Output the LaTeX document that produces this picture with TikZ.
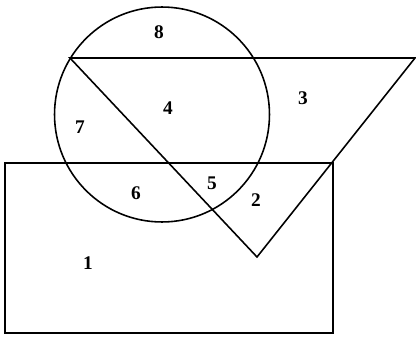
\documentclass[tikz,border=0pt]{standalone}
\usepackage{fontspec}
\setmainfont{Liberation Serif}
\begin{document}
\begin{tikzpicture}[x=0.02cm, y=-0.02cm, line width=0.9pt]
        \tikzstyle{num} = [font=\fontsize{11}{13}\selectfont\bfseries, inner sep=0pt]
        \tikzstyle{ring} = [draw, circle, inner sep=0pt, minimum size=4.3cm]

        \useasboundingbox (0,0) rectangle (416,338);

        \coordinate (tl) at (70,58);
        \coordinate (tr) at (415,58);
        \coordinate (tb) at (257,257);
        \coordinate (rtl) at (5,163);
        \coordinate (rbr) at (333,333);

        \node (circ) [ring] at (162,114.5) {};

        \draw (tl) -- (tr) -- (tb) -- cycle;
        \draw (rtl) rectangle (rbr);

        \node (n8) [num] at (159,32) {8};
        \node (n4) [num] at (168,108) {4};
        \node (n7) [num] at (80,127) {7};
        \node (n3) [num] at (303,98) {3};
        \node (n6) [num] at (136,193) {6};
        \node (n5) [num] at (212,183) {5};
        \node (n2) [num] at (256,200) {2};
        \node (n1) [num] at (88,263) {1};

    \end{tikzpicture}
\end{document}
